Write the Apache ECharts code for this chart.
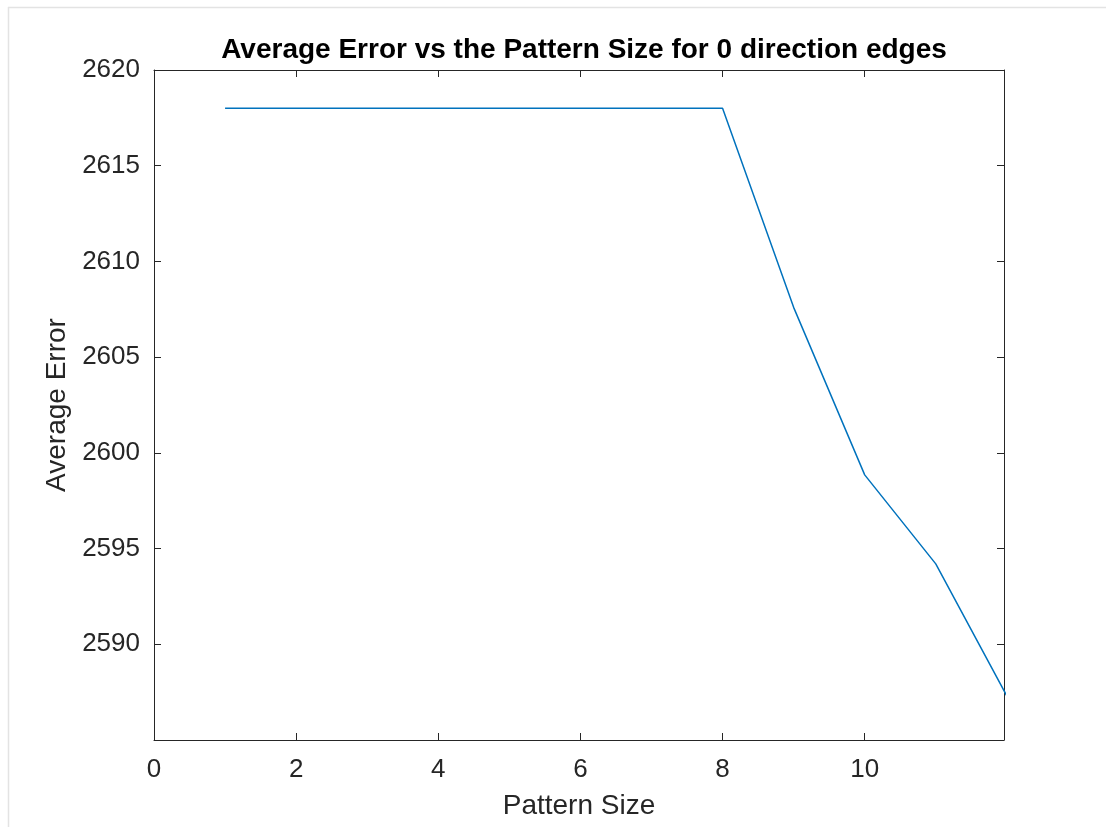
<!DOCTYPE html>
<html>
<head>
<meta charset="utf-8">
<script src="https://cdn.jsdelivr.net/npm/echarts@6/dist/echarts.min.js"></script>
<style>html,body{margin:0;padding:0;background:#fff}#c{width:1106px;height:827px}</style>
</head>
<body>
<div id="c"></div>
<script>
const titleText = 'Average Error vs the Pattern Size for 0 direction edges';
const xName = 'Pattern Size';
const yName = 'Average Error';
const patternSize = [1, 2, 3, 4, 5, 6, 7, 8, 9, 10, 11, 12];
const averageError = [2618, 2618, 2618, 2618, 2618, 2618, 2618, 2618, 2607.6, 2598.85, 2594.2, 2587.3];
const xMin = 0, xMax = 11.96, xStep = 2;
const yMin = 2585, yMax = 2620, yStep = 5;

const font = '"Liberation Sans", Arial, Helvetica, sans-serif';
const axisColor = '#262626';
const chart = echarts.init(document.getElementById('c'), null, {renderer: 'canvas'});
const points = patternSize.map((x, i) => [x, averageError[i]]);

const baseX = {
  type: 'value', min: xMin, max: xMax, interval: xStep,
  axisLine: {show: true, onZero: false, lineStyle: {color: axisColor, width: 1}},
  axisTick: {show: true, inside: true, length: 7, lineStyle: {color: axisColor}},
  splitLine: {show: false}
};
const baseY = {
  type: 'value', min: yMin, max: yMax, interval: yStep,
  axisLine: {show: true, onZero: false, lineStyle: {color: axisColor, width: 1}},
  axisTick: {show: true, inside: true, length: 7, lineStyle: {color: axisColor}},
  splitLine: {show: false}
};

chart.setOption({
  animation: false,
  backgroundColor: '#ffffff',
  title: {
    text: titleText, left: 579, top: 31, textAlign: 'center',
    textStyle: {fontFamily: font, fontSize: 28, fontWeight: 'bold', color: '#000000'}
  },
  grid: {left: 154, right: 102, top: 70, bottom: 87, containLabel: false},
  xAxis: [
    Object.assign({}, baseX, {
      position: 'bottom',
      name: xName, nameLocation: 'middle', nameGap: 52,
      nameTextStyle: {fontFamily: font, fontSize: 28, color: axisColor},
      axisLabel: {fontFamily: font, fontSize: 26, color: axisColor, margin: 17,
        showMaxLabel: false,
        formatter: v => (Math.abs(v - xMax) < 1e-9 ? '' : String(v))}
    }),
    Object.assign({}, baseX, {position: 'top', axisLabel: {show: false}})
  ],
  yAxis: [
    Object.assign({}, baseY, {
      position: 'left',
      name: yName, nameLocation: 'middle', nameGap: 82, nameRotate: 90,
      nameTextStyle: {fontFamily: font, fontSize: 28, color: axisColor},
      axisLabel: {fontFamily: font, fontSize: 26, color: axisColor, margin: 14,
        formatter: v => (v === yMin ? '' : String(v))}
    }),
    Object.assign({}, baseY, {position: 'right', axisLabel: {show: false}})
  ],
  graphic: [
    {type: 'line', silent: true, shape: {x1: 8, y1: 7.5, x2: 1106, y2: 7.5}, style: {stroke: '#e3e3e3', lineWidth: 1.5}},
    {type: 'line', silent: true, shape: {x1: 8.5, y1: 7, x2: 8.5, y2: 827}, style: {stroke: '#e3e3e3', lineWidth: 1.5}}
  ],
  series: [{
    type: 'line', data: points, xAxisIndex: 0, yAxisIndex: 0,
    showSymbol: false, clip: true,
    lineStyle: {color: '#0072BD', width: 1.5}
  }]
});
</script>
</body>
</html>
